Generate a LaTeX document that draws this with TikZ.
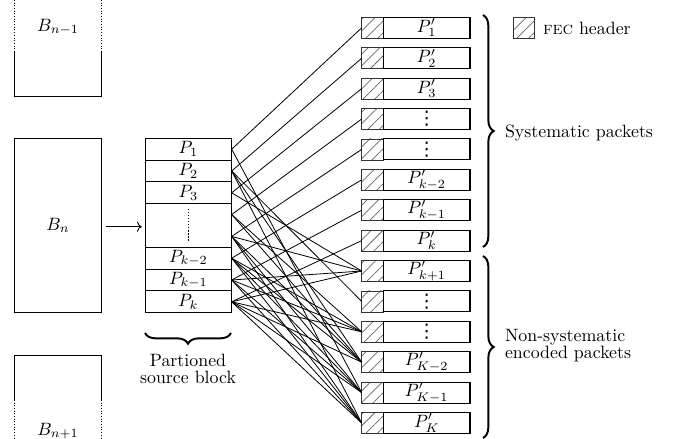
\documentclass[tikz,border=0pt]{standalone}
\usepackage{fontspec}
\newfontfamily\dvfont{DejaVu Sans}
\usetikzlibrary{arrows.meta,patterns.meta,decorations.pathreplacing,calc}
\newcommand\vdts{{\dvfont\fontsize{10.5}{11}\selectfont ⋮}}
\begin{document}
\begin{tikzpicture}[x=0.56pt,y=-0.56pt,
  every node/.style={inner sep=0pt,outer sep=0pt},
  cell/.style={draw,line width=0.5pt,minimum width=48.55pt,minimum height=12.21pt},
  hdr/.style={draw=black!80,line width=0.4pt,minimum width=12.1pt,minimum height=11.76pt,
    pattern={Lines[angle=45,distance=4.6pt,line width=0.4pt]},pattern color=black!60},
  dat/.style={draw,line width=0.6pt,minimum width=48.55pt,minimum height=11.76pt},
  link/.style={line width=0.45pt},
  bigbrace/.style={decorate,decoration={brace,amplitude=6pt},line width=1.1pt},
  blk/.style={line width=0.5pt}]
\useasboundingbox (0,0) rectangle (674,439);

% neighbouring blocks
\draw[blk,densely dotted] (14.3,0) -- (14.3,52);
\draw[blk,densely dotted] (101.7,0) -- (101.7,52);
\draw[blk] (14.3,52) -- (14.3,96) -- (101.7,96) -- (101.7,52);
\node (bm) at (58,27) {$B_{n-1}$};

\draw[blk] (14.3,400) -- (14.3,355) -- (101.7,355) -- (101.7,400);
\draw[blk,densely dotted] (14.3,400) -- (14.3,439);
\draw[blk,densely dotted] (101.7,400) -- (101.7,439);
\node (bp) at (58,431) {$B_{n+1}$};

\node[draw,line width=0.5pt,minimum width=48.9pt,minimum height=97.7pt] (Bn) at (58,225.5) {$B_n$};

% source block
\node[cell] (s1) at (188.35,149.2) {$P_1$};
\node[cell] (s2) at (188.35,171.0) {$P_2$};
\node[cell] (s3) at (188.35,192.8) {$P_3$};
\node[cell,minimum height=24.42pt] (sd) at (188.35,225.5) {};
\node[cell] (s6) at (188.35,258.2) {$P_{k-2}$};
\node[cell] (s7) at (188.35,280.0) {$P_{k-1}$};
\node[cell] (s8) at (188.35,301.8) {$P_k$};
\draw[densely dotted,line width=0.7pt] ($(sd.center)+(0,-16.5)$) -- ($(sd.center)+(0,16.5)$);

\draw[-{To},line width=0.5pt,shorten <=2.4pt,shorten >=1.8pt] (Bn.east |- 0,226.7) coordinate (ba) -- (sd.west |- 0,226.7) coordinate (bb);

\coordinate (a1) at (s1.east);
\coordinate (a2) at (s2.east);
\coordinate (a3) at (s3.east);
\coordinate (a4) at ($(sd.north east)!0.25!(sd.south east)$);
\coordinate (a5) at ($(sd.north east)!0.75!(sd.south east)$);
\coordinate (a6) at (s6.east);
\coordinate (a7) at (s7.east);
\coordinate (a8) at (s8.east);

\draw[bigbrace] (231,333) -- (145,333) node[midway,below=12pt,align=center] (lbl) {Partioned\\[-2.5pt]source block};

% encoded packets
\foreach \i/\lab in {1/{$P'_1$},2/{$P'_2$},3/{$P'_3$},4/{\vdts},5/{\vdts},6/{$P'_{k-2}$},7/{$P'_{k-1}$},8/{$P'_k$},9/{$P'_{k+1}$},10/{\vdts},11/{\vdts},12/{$P'_{K-2}$},13/{$P'_{K-1}$},14/{$P'_K$}}{
  \pgfmathsetmacro\yc{17.3+30.4*(\i-1)+10.5}
  \node[hdr] (h\i) at (372.5,\yc) {};
  \node[dat] (d\i) at (426.65,\yc) {\lab};
}

% systematic links
\foreach \i in {1,...,8}{\draw[link] (a\i) -- (h\i.west);}
% non-systematic links
\foreach \s/\t in {1/13,2/10,2/12,2/14,3/9,4/11,4/12,5/9,5/12,5/13,5/14,6/11,6/12,6/13,6/14,7/9,7/11,7/13,7/14,8/9,8/11,8/12,8/13,8/14}{
  \draw[link] (a\s) -- (h\t.west);
}

% braces and labels
\draw[bigbrace] (483,15) -- (483,247);
\node[anchor=west] (sys) at (505,133) {Systematic packets};
\draw[bigbrace] (483,256) -- (483,438);
\node[anchor=west,align=left] (nsys) at (505,346) {Non-systematic\\[-2.5pt]encoded packets};

% legend
\node[hdr] (leg) at (524,28) {};
\node[anchor=west] (legt) at (543,28) {\textsc{fec} header};
\end{tikzpicture}
\end{document}
